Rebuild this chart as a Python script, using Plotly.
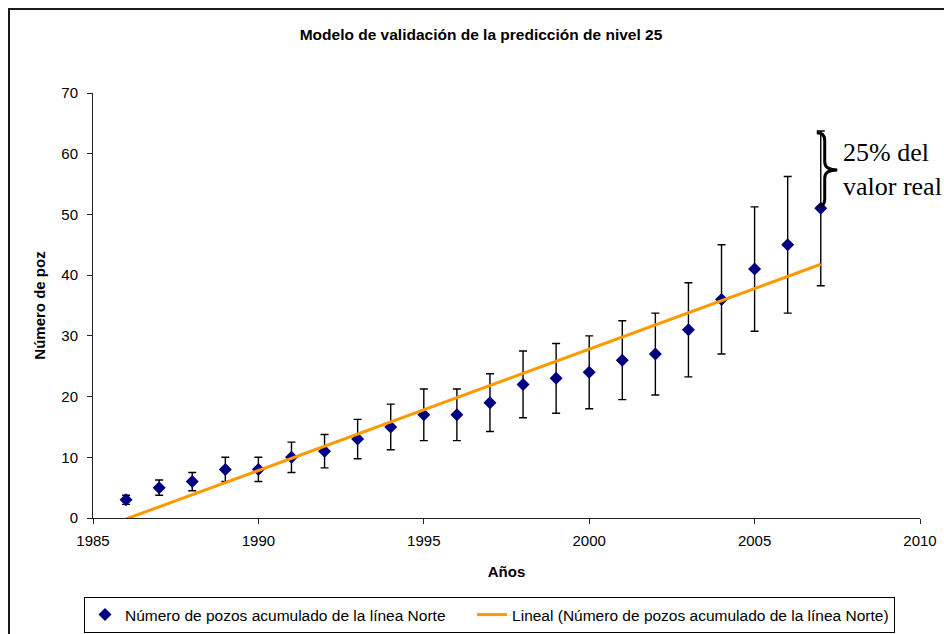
import numpy as np
import plotly.graph_objects as go

# Cumulative number of wells, Norte line
years = [1986, 1987, 1988, 1989, 1990, 1991, 1992, 1993, 1994, 1995, 1996,
         1997, 1998, 1999, 2000, 2001, 2002, 2003, 2004, 2005, 2006, 2007]
wells = [3, 5, 6, 8, 8, 10, 11, 13, 15, 17, 17,
         19, 22, 23, 24, 26, 27, 31, 36, 41, 45, 51]

x_ticks = [1985, 1990, 1995, 2000, 2005, 2010]
y_ticks = [0, 10, 20, 30, 40, 50, 60, 70]

series_name = "Número de pozos acumulado de la línea Norte"
trend_name = "Lineal (Número de pozos acumulado de la línea Norte)"

# Least-squares linear trend over the series
slope, intercept = np.polyfit(years, wells, 1)
trend_x = [years[0], years[-1]]
trend_y = [slope * x + intercept for x in trend_x]

FONT = "Liberation Sans, Arial, sans-serif"
NBSP = "\u00a0"

fig = go.Figure()

fig.add_trace(go.Scatter(
    x=years, y=wells, mode="markers", name=series_name + NBSP * 5,
    marker=dict(symbol="diamond", size=10, color="#000080"),
    error_y=dict(type="percent", value=25, color="#000000",
                 thickness=1.4, width=4),
    cliponaxis=False,
))

fig.add_trace(go.Scatter(
    x=trend_x, y=trend_y, mode="lines", name=trend_name,
    line=dict(color="#FF9900", width=3),
))

# Plot area in pixels: x 93..920, y 93..518
L, R, T, B = 93, 920, 93, 518
W, H = 944, 634


def px_x(px):
    return (px - L) / (R - L)


def px_y(py):
    return (B - py) / (B - T)


# Curly brace marking the upper 25% band of the last point
top = wells[-1] * 1.25 - 0.3
bot = wells[-1] + 0.2
mid = (top + bot) / 2
x0, x1, x2 = 2006.88, 2007.12, 2007.5
d = 1.3
brace = (f"M {x0},{top} Q {x1},{top} {x1},{top - d} "
         f"L {x1},{mid + d} Q {x1},{mid} {x2},{mid} "
         f"Q {x1},{mid} {x1},{mid - d} "
         f"L {x1},{bot + d} Q {x1},{bot} {x0},{bot}")

fig.update_layout(
    width=W, height=H, autosize=False,
    margin=dict(l=L, r=W - R, t=T, b=H - B, autoexpand=False),
    paper_bgcolor="white", plot_bgcolor="white",
    font=dict(family=FONT, size=15, color="black"),
    title=dict(
        text="<b>Modelo de validación de la predicción de nivel 25</b>",
        x=481 / W, xanchor="center", xref="container",
        y=1 - 35 / H, yanchor="middle",
        font=dict(family=FONT, size=15.5, color="black"),
    ),
    xaxis=dict(
        range=[1985, 2010], tickvals=x_ticks, ticktext=[str(v) for v in x_ticks],
        showgrid=False, zeroline=False, showline=True, linecolor="#222",
        linewidth=1, ticks="outside", ticklen=5, tickcolor="#222",
        tickfont=dict(size=15), ticklabelstandoff=4,
        title=dict(text="<b>Años</b>", font=dict(size=15), standoff=18),
    ),
    yaxis=dict(
        range=[0, 70], tickvals=y_ticks, ticktext=[str(v) for v in y_ticks],
        showgrid=False, zeroline=False, showline=True, linecolor="#222",
        linewidth=1, ticks="outside", ticklen=5, tickcolor="#222",
        tickfont=dict(size=15), ticklabelstandoff=6,
        title=dict(text="<b>Número de poz</b>", font=dict(size=15), standoff=12),
    ),
    legend=dict(
        orientation="h", x=px_x(84), xanchor="left",
        y=px_y(633), yanchor="bottom",
        bordercolor="#000", borderwidth=1, bgcolor="white",
        font=dict(size=15.5), traceorder="normal",
    ),
    shapes=[
        # chart frame
        dict(type="rect", xref="paper", yref="paper",
             x0=px_x(9), x1=px_x(960), y0=px_y(650), y1=px_y(9),
             line=dict(color="#1a1a1a", width=2), layer="below"),
        dict(type="path", xref="x", yref="y", path=brace,
             line=dict(color="black", width=3)),
    ],
    annotations=[
        dict(text="25% del<br>valor real", xref="x", yref="y",
             x=2007.6, y=mid, xanchor="left", yanchor="middle",
             showarrow=False, align="left",
             font=dict(family="Liberation Serif, Times New Roman, serif",
                       size=26, color="black")),
    ],
)

fig.write_html("out.html")
